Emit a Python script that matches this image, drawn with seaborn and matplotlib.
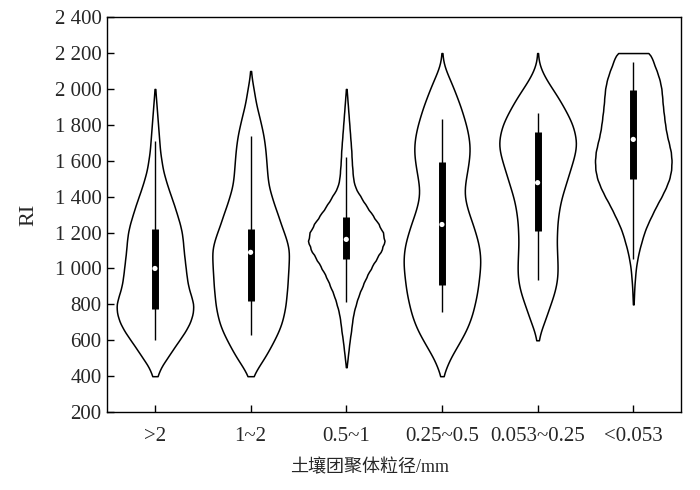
import numpy as np
import pandas as pd
import matplotlib
matplotlib.use("Agg")
import matplotlib.pyplot as plt
from matplotlib.ticker import FuncFormatter
import seaborn as sns

# --- data ---
sizes = [">2", "1~2", "0.5~1", "0.25~0.5", "0.053~0.25", "<0.053"]

# RI levels (50 steps) and relative density (violin half width) at each level
ri_levels = [400, 450, 500, 550, 600, 650, 700, 750, 800, 850, 900, 950,
             1000, 1050, 1100, 1150, 1200, 1250, 1300, 1350, 1400, 1450,
             1500, 1550, 1600, 1650, 1700, 1750, 1800, 1850, 1900, 1950,
             2000, 2050, 2100, 2150, 2200]

dens_gt2 = [7, 17, 35, 52, 70, 88, 102, 110, 112, 104, 96, 92,
            89, 86, 83, 81, 78, 72, 64, 56, 47, 38,
            30, 23, 19, 15, 13, 11, 9, 7, 5, 3,
            1, 0, 0, 0, 0]
dens_1_2 = [7, 22, 40, 55, 69, 82, 92, 98, 103, 105, 108, 109,
            111, 112, 113, 107, 98, 88, 80, 70, 62, 54,
            50, 48, 46, 44, 41, 37, 31, 25, 18, 13,
            9, 4, 1, 0, 0]
dens_05_1 = [0, 1, 4, 7, 10, 14, 17, 21, 28, 36, 47, 58,
             72, 87, 103, 113, 108, 94, 76, 58, 42, 26,
             20, 18, 16, 15, 13, 11, 9, 7, 5, 3,
             1, 0, 0, 0, 0]
dens_025_05 = [3, 13, 24, 40, 55, 70, 81, 90, 96, 102, 106, 109,
               112, 113, 111, 106, 98, 90, 80, 72, 66, 66,
               70, 75, 79, 82, 81, 77, 71, 63, 55, 45,
               35, 24, 12, 3, 1]
dens_0053_025 = [0, 0, 0, 0, 3, 9, 19, 28, 37, 46, 53, 57,
                 58, 57, 56, 55, 56, 57, 60, 64, 70, 78,
                 86, 94, 102, 109, 112, 108, 101, 89, 75, 60,
                 43, 26, 12, 3, 1]
dens_lt0053 = [0, 0, 0, 0, 0, 0, 0, 0, 1, 2, 3, 5,
               7, 11, 16, 23, 30, 40, 52, 64, 78, 90,
               100, 105, 106, 104, 98, 92, 88, 85, 82, 80,
               78, 73, 65, 55, 48]

# box plot statistics
whis_lo = [601, 629, 811, 757, 935, 1052]
q1 = [772, 818, 1050, 906, 1206, 1499]
med = [1000, 1090, 1162, 1245, 1478, 1719]
q3 = [1218, 1221, 1286, 1595, 1761, 1993]
whis_hi = [1710, 1740, 1619, 1834, 1864, 2151]

# long table for seaborn
dens_all = [dens_gt2, dens_1_2, dens_05_1, dens_025_05, dens_0053_025, dens_lt0053]
df = pd.concat([
    pd.DataFrame({"size": s, "RI": np.repeat(ri_levels, d)})
    for s, d in zip(sizes, dens_all)
], ignore_index=True)

sns.set_style("ticks")
plt.rcParams["font.family"] = ["Liberation Serif", "Noto Sans CJK SC"]
plt.rcParams["xtick.direction"] = "in"
plt.rcParams["ytick.direction"] = "in"

fig = plt.figure(figsize=(7, 4.9), dpi=100)
ax = fig.add_axes([0.153, 0.159, 0.820, 0.806])

sns.violinplot(data=df, x="size", y="RI", order=sizes, ax=ax,
               color="white", linecolor="black", linewidth=1.1,
               inner=None, cut=0, density_norm="width", bw_method=0.1,
               width=0.8, saturation=1)

pos = np.arange(len(sizes))
ax.vlines(pos, whis_lo, whis_hi, color="black", linewidth=1.0, zorder=3)
ax.vlines(pos, q1, q3, color="black", linewidth=5.0, zorder=4)
ax.scatter(pos, med, s=14, color="white", edgecolors="none", zorder=5)

ax.set_xlim(-0.5, 5.5)
ax.set_ylim(200, 2400)
ax.set_yticks(np.arange(200, 2401, 200))
ax.yaxis.set_major_formatter(FuncFormatter(lambda v, p: f"{int(v):,}".replace(",", " ")))

ax.tick_params(axis="both", labelsize=15, length=5, width=1, color="black")
ax.tick_params(axis="x", pad=11)
ax.tick_params(axis="y", pad=4)
for sp in ax.spines.values():
    sp.set_visible(True)
    sp.set_linewidth(1.0)
    sp.set_color("black")

ax.set_xlabel("土壤团聚体粒径/mm", fontsize=13)
ax.xaxis.set_label_coords(0.458, -0.118)
ax.set_ylabel("RI", fontsize=16, labelpad=12)

fig.savefig("out.png", dpi=100)
